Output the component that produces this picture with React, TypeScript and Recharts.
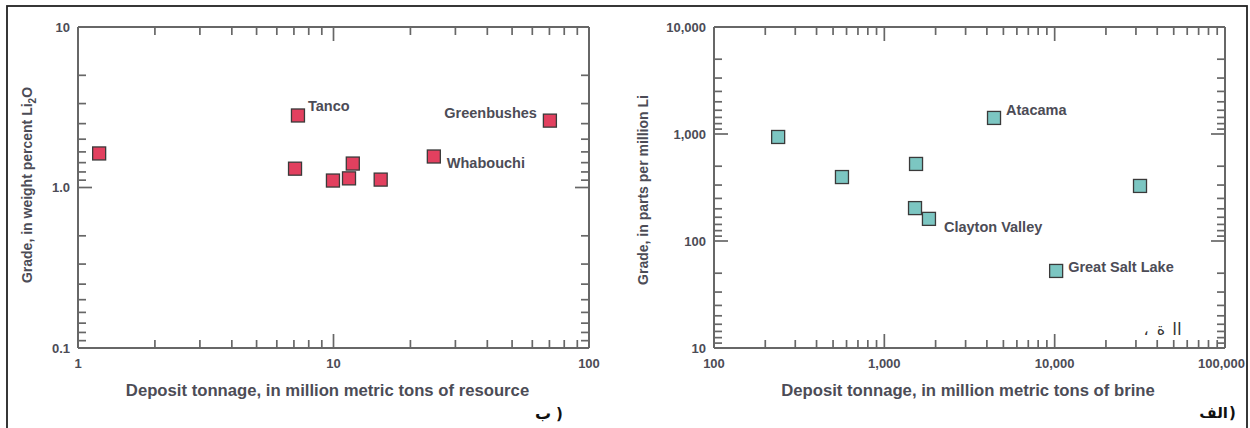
import React from 'react';
import { ScatterChart, Scatter, XAxis, YAxis } from 'recharts';

// ---------- data ----------
const hardRockNames = ['', 'Tanco', '', '', '', '', '', 'Whabouchi', 'Greenbushes'];
const hardRockTonnage = [1.21, 7.26, 7.07, 9.95, 11.5, 11.9, 15.3, 24.7, 70.3];
const hardRockGrade = [1.63, 2.81, 1.31, 1.105, 1.14, 1.41, 1.12, 1.56, 2.61];

const brineNames = ['', '', '', 'Atacama', '', '', 'Clayton Valley', 'Great Salt Lake'];
const brineTonnage = [238, 564, 1535, 4405, 31700, 1514, 1828, 10200];
const brineGrade = [938, 396, 525, 1413, 327, 203, 161, 52.5];

// tick values
const minorSteps = [2, 3, 4, 5, 6, 7, 8, 9];
const hardXDecades = [1, 10];
const hardYDecades = [0.1, 1];
const brineXDecades = [100, 1000, 10000];
const brineYDecades = [10, 100, 1000];

const hardXLabels: Record<string, string> = { '1': '1', '10': '10', '100': '100' };
const hardYLabels: Record<string, string> = { '0.1': '0.1', '1': '1.0', '10': '10' };
const brineXLabels: Record<string, string> = { '100': '100', '1000': '1,000', '10000': '10,000', '100000': '100,000' };
const brineYLabels: Record<string, string> = { '10': '10', '100': '100', '1000': '1,000', '10000': '10,000' };

// ---------- helpers ----------
const normalTicks = (decades: number[]) => {
  const t: number[] = [];
  decades.forEach((d) => {
    t.push(d);
    minorSteps.forEach((k) => t.push(d * k));
  });
  t.push(decades[decades.length - 1] * 10);
  return t;
};
// the original draws the vertical minor ticks mirrored inside each decade
const mirroredTicks = (decades: number[]) => {
  const t: number[] = [];
  decades.forEach((d) => {
    t.push(d);
    minorSteps.forEach((k) => t.push((d * 10) / k));
  });
  t.push(decades[decades.length - 1] * 10);
  return t;
};

const isMajor = (v: number) => {
  const l = Math.log10(v);
  return Math.abs(l - Math.round(l)) < 1e-6;
};
const keyOf = (v: number) => String(Math.round(v * 1000) / 1000);

const FONT = '"Liberation Sans", Arial, sans-serif';
const ARAB = '"DejaVu Sans", sans-serif';
const AXIS = '#676767';
const TXT = '#4c4c56';

type Side = 'top' | 'bottom' | 'left' | 'right';

const makeTick = (side: Side, labels?: Record<string, string>, lastValue?: number) => (props: any) => {
  const x = Number(props.x);
  const y = Number(props.y);
  const v = Number(props.payload?.value);
  const major = isMajor(v);
  const len = major ? 14 : 8;
  let x2 = x;
  let y2 = y;
  if (side === 'bottom') y2 = y - len;
  if (side === 'top') y2 = y + len;
  if (side === 'left') x2 = x + len;
  if (side === 'right') x2 = x - len;
  const label = labels && major ? labels[keyOf(v)] : undefined;
  const isLast = lastValue !== undefined && Math.abs(v - lastValue) < 1e-9;
  return (
    <g>
      <path d={`M${x},${y}L${x2},${y2}`} stroke={AXIS} strokeWidth={1.7} fill="none" />
      {label && side === 'bottom' && (
        <text x={isLast ? x + 20 : x} y={y + 15} textAnchor={isLast ? 'end' : 'middle'} dominantBaseline="central" fontFamily={FONT} fontWeight="bold" fontSize={13} fill={TXT}>
          {label}
        </text>
      )}
      {label && side === 'left' && (
        <text x={x - 8} y={y} textAnchor="end" dominantBaseline="central" fontFamily={FONT} fontWeight="bold" fontSize={13} fill={TXT}>
          {label}
        </text>
      )}
    </g>
  );
};

type Placement = { dx: number; dy: number; anchor: 'start' | 'end' };
const labelPlacement: Record<string, Placement> = {
  Tanco: { dx: 10, dy: -4, anchor: 'start' },
  Greenbushes: { dx: -13, dy: -3, anchor: 'end' },
  Whabouchi: { dx: 13, dy: 11, anchor: 'start' },
  Atacama: { dx: 12, dy: -3, anchor: 'start' },
  'Clayton Valley': { dx: 15, dy: 13, anchor: 'start' },
  'Great Salt Lake': { dx: 12, dy: 1, anchor: 'start' },
};

const makeShape = (fill: string) => (props: any) => {
  const { cx, cy, payload } = props;
  const name = payload?.name as string;
  const p = name ? labelPlacement[name] : undefined;
  return (
    <g>
      <rect x={cx - 6.5} y={cy - 6.5} width={13} height={13} fill={fill} stroke="#3a3a3a" strokeWidth={1.3} />
      {p && (
        <text x={cx + p.dx} y={cy + p.dy} textAnchor={p.anchor} fontFamily={FONT} fontWeight="bold" fontSize={14.5} fill={TXT}>
          {name}
        </text>
      )}
    </g>
  );
};

const hardRockData = hardRockTonnage.map((x, i) => ({ x, y: hardRockGrade[i], name: hardRockNames[i] }));
const brineData = brineTonnage.map((x, i) => ({ x, y: brineGrade[i], name: brineNames[i] }));

const axisLine = { stroke: AXIS, strokeWidth: 2 };

function LogPanel(props: {
  left: number;
  width: number;
  plot: { top: number; right: number; bottom: number; left: number };
  xDomain: [number, number];
  yDomain: [number, number];
  xTicks: number[];
  yTicks: number[];
  xLabels: Record<string, string>;
  yLabels: Record<string, string>;
  data: { x: number; y: number; name: string }[];
  fill: string;
  lastXLabelFlush?: boolean;
}) {
  const { left, width, plot, xDomain, yDomain, xTicks, yTicks, xLabels, yLabels, data, fill, lastXLabelFlush } = props;
  // each axis occupies a 1px band; margins are reduced so the plot box keeps its place
  const margin = { top: plot.top - 1, right: plot.right - 1, bottom: plot.bottom - 1, left: plot.left - 1 };
  return (
    <div style={{ position: 'absolute', left, top: 0 }}>
      <ScatterChart width={width} height={428} margin={margin}>
        <XAxis xAxisId="b" dataKey="x" type="number" scale="log" domain={xDomain} allowDataOverflow ticks={xTicks} interval={0}
          orientation="bottom" height={1} tickSize={0} tickMargin={0} axisLine={axisLine} tickLine={false}
          tick={makeTick('bottom', xLabels, lastXLabelFlush ? xDomain[1] : undefined)} />
        <XAxis xAxisId="t" dataKey="x" type="number" scale="log" domain={xDomain} allowDataOverflow ticks={xTicks} interval={0}
          orientation="top" height={1} tickSize={0} tickMargin={0} axisLine={axisLine} tickLine={false} tick={makeTick('top')} />
        <YAxis yAxisId="l" dataKey="y" type="number" scale="log" domain={yDomain} allowDataOverflow ticks={yTicks} interval={0}
          orientation="left" width={1} tickSize={0} tickMargin={0} axisLine={axisLine} tickLine={false} tick={makeTick('left', yLabels)} />
        <YAxis yAxisId="r" dataKey="y" type="number" scale="log" domain={yDomain} allowDataOverflow ticks={yTicks} interval={0}
          orientation="right" width={1} tickSize={0} tickMargin={0} axisLine={axisLine} tickLine={false} tick={makeTick('right')} />
        <Scatter data={data} xAxisId="b" yAxisId="l" isAnimationActive={false} shape={makeShape(fill)} />
      </ScatterChart>
    </div>
  );
}

export default function App() {
  return (
    <div style={{ position: 'absolute', left: 0, top: 0, width: 1250, height: 428, background: '#fff', overflow: 'hidden' }}>
      <LogPanel
        left={0}
        width={620}
        plot={{ top: 27, left: 78, right: 31, bottom: 80 }}
        xDomain={[1, 100]}
        yDomain={[0.1, 10]}
        xTicks={normalTicks(hardXDecades)}
        yTicks={mirroredTicks(hardYDecades)}
        xLabels={hardXLabels}
        yLabels={hardYLabels}
        data={hardRockData}
        fill="#e2405f"
      />
      <LogPanel
        left={620}
        width={630}
        plot={{ top: 27, left: 94, right: 25, bottom: 80 }}
        xDomain={[100, 100000]}
        yDomain={[10, 10000]}
        xTicks={normalTicks(brineXDecades)}
        yTicks={mirroredTicks(brineYDecades)}
        xLabels={brineXLabels}
        yLabels={brineYLabels}
        data={brineData}
        fill="#7cc6c2"
        lastXLabelFlush
      />
      <svg width={1250} height={428} style={{ position: 'absolute', left: 0, top: 0, pointerEvents: 'none' }}>
        <rect x={7} y={6} width={1240} height={440} fill="none" stroke="#222" strokeWidth={1.8} />
        <text x={327.5} y={396} textAnchor="middle" fontFamily={FONT} fontWeight="bold" fontSize={16.7} fill={TXT}>
          Deposit tonnage, in million metric tons of resource
        </text>
        <text x={968} y={396} textAnchor="middle" fontFamily={FONT} fontWeight="bold" fontSize={16.7} fill={TXT}>
          Deposit tonnage, in million metric tons of brine
        </text>
        <text transform="translate(32,185) rotate(-90)" textAnchor="middle" fontFamily={FONT} fontWeight="bold" fontSize={14} fill={TXT}>
          Grade, in weight percent Li<tspan fontSize={10} dy={4}>2</tspan><tspan dy={-4}>O</tspan>
        </text>
        <text transform="translate(648,190) rotate(-90)" textAnchor="middle" fontFamily={FONT} fontWeight="bold" fontSize={14} fill={TXT}>
          Grade, in parts per million Li
        </text>
        <text x={1146} y={335} textAnchor="middle" fontFamily={ARAB} fontSize={16} fill="#333">،</text>
        <text x={1161} y={335} textAnchor="middle" fontFamily={ARAB} fontSize={16} fill="#333">ة</text>
        <text x={1177} y={335} textAnchor="middle" fontFamily={ARAB} fontSize={17} fill="#333">اا</text>
        <text x={551} y={419} textAnchor="end" fontFamily={ARAB} fontWeight="bold" fontSize={16} fill="#111">ب</text>
        <text x={556} y={419} textAnchor="start" fontFamily={ARAB} fontWeight="bold" fontSize={15} fill="#111">)</text>
        <text x={1228} y={418} textAnchor="end" fontFamily={ARAB} fontWeight="bold" fontSize={15} fill="#111">الف</text>
        <text x={1229} y={418} textAnchor="start" fontFamily={ARAB} fontWeight="bold" fontSize={15} fill="#111">)</text>
      </svg>
    </div>
  );
}
